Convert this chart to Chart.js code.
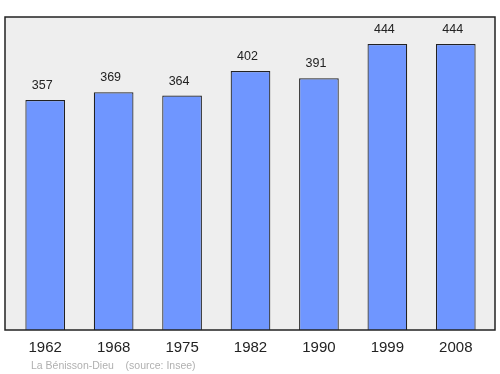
<!DOCTYPE html>
<html><head><meta charset="utf-8">
<script src="https://cdn.jsdelivr.net/npm/chart.js@4/dist/chart.umd.min.js"></script>
<style>html,body{margin:0;padding:0;background:#fff}#c{display:block}</style>
</head><body>
<canvas id="c" width="500" height="374"></canvas>
<script>
const years = ["1962","1968","1975","1982","1990","1999","2008"];
const population = [357,369,364,402,391,444,444];
const footerText = "La Bénisson-Dieu    (source: Insee)";

const boxPlugin = {
  id: 'box',
  beforeDatasetsDraw(chart){
    const {ctx, chartArea:a} = chart;
    ctx.save();
    ctx.fillStyle = '#eeeeee';
    ctx.fillRect(5, a.top, 490, a.bottom - a.top);
    ctx.restore();
  },
  afterDatasetsDraw(chart){
    const {ctx, chartArea:a} = chart;
    ctx.save();
    ctx.strokeStyle = '#222';
    ctx.lineWidth = 1.5;
    ctx.strokeRect(5, a.top, 490, a.bottom - a.top);
    ctx.fillStyle = '#222';
    ctx.font = '12.5px "Liberation Sans", Arial, sans-serif';
    ctx.textAlign = 'center';
    ctx.textBaseline = 'middle';
    const meta = chart.getDatasetMeta(0);
    meta.data.forEach((bar, i) => {
      ctx.fillText(String(population[i]), bar.x - 3, bar.y - 14.5);
    });
    ctx.fillStyle = '#b0b0b0';
    ctx.font = '10.5px "Liberation Sans", Arial, sans-serif';
    ctx.textAlign = 'left';
    ctx.fillText(footerText, 31, 366);
    ctx.restore();
  }
};

new Chart(document.getElementById('c'), {
  type: 'bar',
  data: {
    labels: years,
    datasets: [{
      data: population,
      backgroundColor: '#6f96ff',
      borderColor: '#222',
      borderWidth: 1.2,
      barPercentage: 0.58,
      categoryPercentage: 1
    }]
  },
  options: {
    responsive: false,
    animation: false,
    events: [],
    layout: { padding: { top: 17, left: 11, right: 10, bottom: 0 } },
    plugins: { legend: { display: false }, tooltip: { enabled: false } },
    scales: {
      x: {
        grid: { display: false, drawTicks: false },
        border: { display: false },
        ticks: { color: '#222', padding: 9, font: { size: 15, family: '"Liberation Sans", Arial, sans-serif' } },
        afterFit(scale){ scale.height = 44; }
      },
      y: { display: false, min: 0, max: 486 }
    }
  },
  plugins: [boxPlugin]
});
</script>
</body></html>
